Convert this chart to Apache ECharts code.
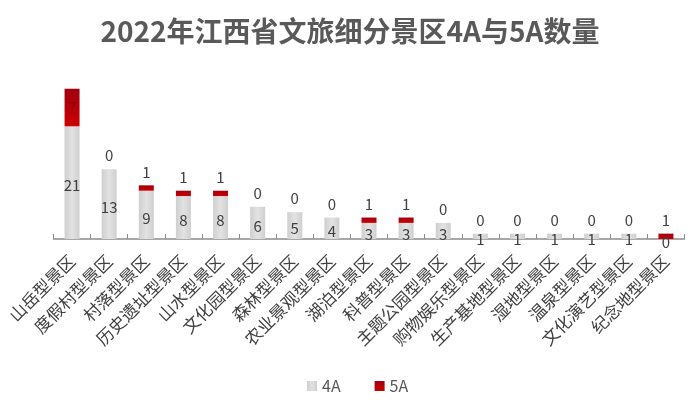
<!DOCTYPE html>
<html><head><meta charset="utf-8">
<script src="https://cdn.jsdelivr.net/npm/echarts@6/dist/echarts.min.js"></script>
<style>html,body{margin:0;padding:0;background:#fff}#c{width:700px;height:404px}</style>
</head><body><div id="c"></div>
<script>
const categories = ['山岳型景区','度假村型景区','村落型景区','历史遗址型景区','山水型景区','文化园型景区','森林型景区','农业景观型景区','湖泊型景区','科普型景区','主题公园型景区','购物娱乐型景区','生产基地型景区','湿地型景区','温泉型景区','文化演艺型景区','纪念地型景区'];
const values4A = [21,13,9,8,8,6,5,4,3,3,3,1,1,1,1,1,0];
const values5A = [7,0,1,1,1,0,0,0,1,1,0,0,0,0,0,0,1];
const seriesNames = ['4A','5A'];

const chart = echarts.init(document.getElementById('c'));
const font = '"Noto Sans CJK SC", "Noto Sans", sans-serif';
const data5A = values5A.map((v,i)=> i===0 ? {value:v,label:{position:'inside',color:'#8a0010'}} : v);
chart.setOption({
  animation:false,
  backgroundColor:'#fff',
  title:{text:'2022年江西省文旅细分景区4A与5A数量',left:'center',top:12,
    textStyle:{fontFamily:font,fontSize:28,fontWeight:'bold',color:'#595959'}},
  legend:{data:seriesNames,left:302,top:373,itemWidth:10,itemHeight:10,itemGap:34,
    icon:'rect',textStyle:{fontFamily:font,fontSize:16,color:'#595959'}},
  grid:{left:53.5,right:15.5,top:78,bottom:165},
  xAxis:{type:'category',data:categories,
    axisLine:{lineStyle:{color:'#8c8c8c',width:1.5}},
    axisTick:{show:true,inside:true,length:5,lineStyle:{color:'#8c8c8c'}},
    axisLabel:{rotate:45,interval:0,margin:19,fontFamily:font,fontSize:17,color:'#404040'}},
  yAxis:{type:'value',min:0,max:30,show:false,splitLine:{show:false}},
  series:[
    {name:'4A',type:'bar',stack:'a',data:values4A,barWidth:15,
      itemStyle:{color:new echarts.graphic.LinearGradient(0,0,1,0,[
        {offset:0,color:'#cfcfcf'},{offset:0.5,color:'#e2e2e2'},{offset:1,color:'#cfcfcf'}])},
      label:{show:true,position:'inside',offset:[0,3],fontFamily:font,fontSize:15,color:'#404040'}},
    {name:'5A',type:'bar',stack:'a',data:data5A,barWidth:15,
      itemStyle:{color:new echarts.graphic.LinearGradient(0,0,0,1,[
        {offset:0,color:'#a00010'},{offset:1,color:'#cc0000'}])},
      label:{show:true,position:'top',distance:6,fontFamily:font,fontSize:15,color:'#404040'}}
  ]
});
</script></body></html>
